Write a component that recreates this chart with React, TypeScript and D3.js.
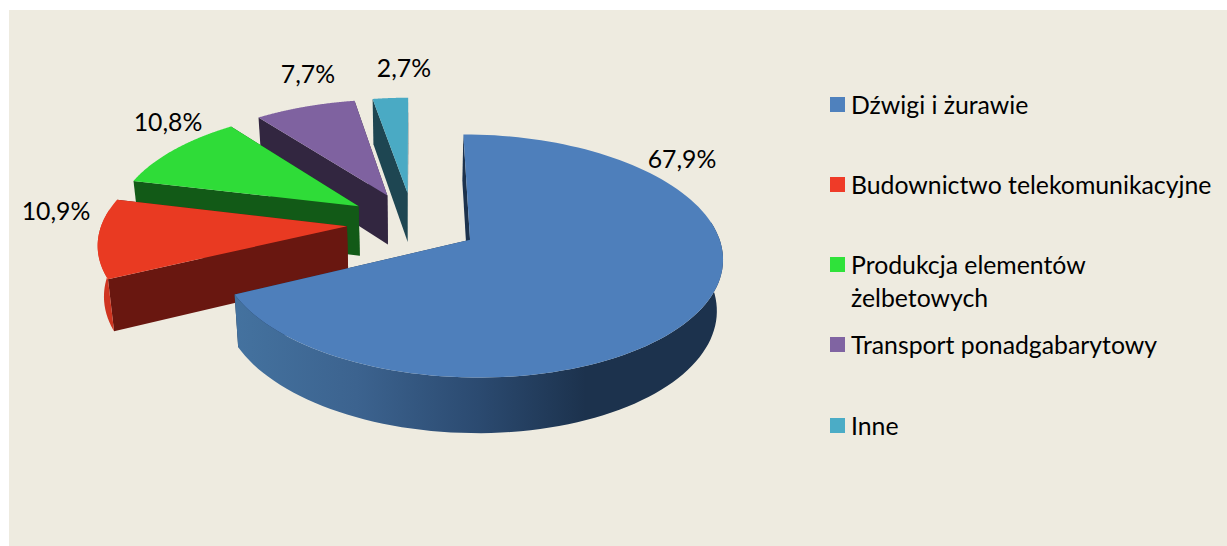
import React from "react";
import * as d3 from "d3";

const categories = ["Dźwigi i żurawie", "Budownictwo telekomunikacyjne", "Produkcja elementów żelbetowych", "Transport ponadgabarytowy", "Inne"];
const legendLines = [["Dźwigi i żurawie"], ["Budownictwo telekomunikacyjne"], ["Produkcja elementów", "żelbetowych"], ["Transport ponadgabarytowy"], ["Inne"]];
const shares = [67.9, 10.9, 10.8, 7.7, 2.7];
const valueLabels = ["67,9%", "10,9%", "10,8%", "7,7%", "2,7%"];
const topColors = ["#4e7fbb", "#e93a22", "#2fdc38", "#7f62a0", "#4aaac4"];
const legendColors = ["#4f81bd", "#ef3b28", "#2fe23a", "#8064a2", "#4bacc6"];
const radialColors = ["#1c324d", "#691710", "#125a17", "#322640", "#1e4652"];
const rimColors = ["url(#blueRim)", "#cf3420", "#1c8a22", "#4d3c62", "#2d6b7c"];
const labelAnchors: [number, number][] = [[682, 168], [56, 220], [168, 131], [308, 83], [404, 77]];
const legendBaselines = [113, 193, 273, 353, 434];

const W = 1227, H = 546;
const FONT = "Lato, 'Noto Sans', sans-serif";
const cx = 413, cy = 223, R = 245, Ry = 115, persp = 0.13, depth = 50, converge = 0.02, explode = 0.27;

const project = (x: number, v: number, z: number): [number, number] => {
  const s = 1 / (1 - persp * v);
  return [cx + R * x * s * (1 - converge * z), cy + Ry * v * s + depth * z * Math.pow(s, 0.66)];
};

const line = d3.line<[number, number]>().x((d) => d[0]).y((d) => d[1]);

export default function App() {
  const arcs = d3.pie<number>().sort(null).startAngle(0).endAngle(2 * Math.PI)(shares);

  const slices = arcs.map((a, i) => {
    const mid = (a.startAngle + a.endAngle) / 2;
    const ox = explode * Math.sin(mid), ov = -explode * Math.cos(mid);
    const angles = d3.range(0, 121).map((k) => a.startAngle + ((a.endAngle - a.startAngle) * k) / 120);
    const rim = (ts: number[], z: number) => ts.map((t) => project(ox + Math.sin(t), ov - Math.cos(t), z));
    const apex = (z: number) => project(ox, ov, z);
    const top = rim(angles, 0), bottom = rim(angles, 1);
    const facing = angles.filter((t) => Math.cos(t) < 0.15);
    return {
      i,
      top: line([apex(0), ...top])! + "Z",
      rim: facing.length ? line([...rim(facing, 0), ...rim(facing, 1).reverse()])! + "Z" : "",
      startWall: line([apex(0), top[0], bottom[0], apex(1)])! + "Z",
      endWall: line([apex(0), top[120], bottom[120], apex(1)])! + "Z",
    };
  });

  return (
    <svg width={W} height={H} style={{ position: "absolute", left: 0, top: 0 }}>
      <defs>
        <linearGradient id="blueRim" gradientUnits="userSpaceOnUse" x1={235} x2={722} y1={0} y2={0}>
          <stop offset="0" stopColor="#44729f" />
          <stop offset="0.25" stopColor="#3c638f" />
          <stop offset="0.5" stopColor="#2b4a70" />
          <stop offset="0.72" stopColor="#1c324d" />
          <stop offset="1" stopColor="#1c324d" />
        </linearGradient>
      </defs>
      <rect x={0} y={0} width={W} height={H} fill="#ffffff" />
      <rect x={9} y={10} width={W - 9} height={H - 10} fill="#eeebe0" />
      {slices.slice().reverse().map((s) => (
        <g key={categories[s.i]}>
          <path d={s.endWall} fill={radialColors[s.i]} />
          <path d={s.startWall} fill={radialColors[s.i]} />
          {s.rim && <path d={s.rim} fill={rimColors[s.i]} />}
          <path d={s.top} fill={topColors[s.i]} />
        </g>
      ))}
      {valueLabels.map((t, i) => (
        <text key={t + i} x={labelAnchors[i][0]} y={labelAnchors[i][1]} textAnchor="middle" fontFamily={FONT} fontSize={24.8} fill="#000">{t}</text>
      ))}
      {legendLines.map((lines, i) => (
        <g key={categories[i]}>
          <rect x={830} y={legendBaselines[i] - 16} width={15} height={15} fill={legendColors[i]} />
          {lines.map((l, j) => (
            <text key={l} x={851} y={legendBaselines[i] + 0.5 + j * 33} fontFamily={FONT} fontSize={24.8} fill="#000">{l}</text>
          ))}
        </g>
      ))}
    </svg>
  );
}
